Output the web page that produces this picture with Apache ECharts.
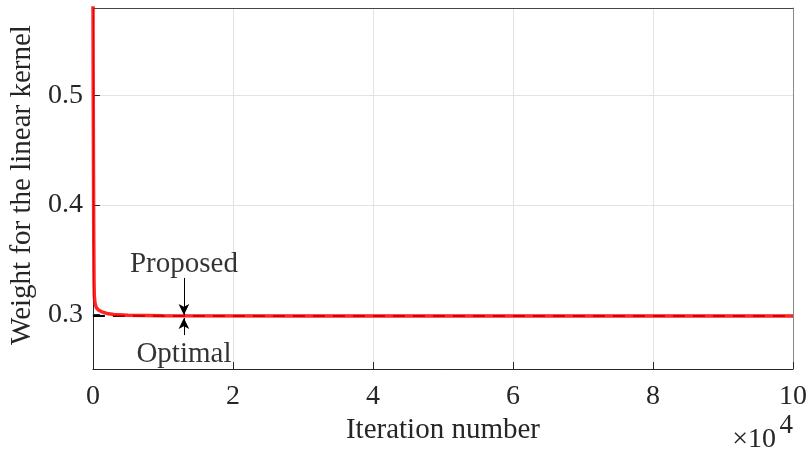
<!DOCTYPE html>
<html>
<head>
<meta charset="utf-8">
<script src="https://cdn.jsdelivr.net/npm/echarts@6/dist/echarts.min.js"></script>
<style>html,body{margin:0;padding:0;background:#fff}#c{width:811px;height:457px}</style>
</head>
<body>
<div id="c"></div>
<script>
// Data (x in units of 1e4 iterations)
var proposedX = [0, 0.004, 0.008, 0.012, 0.016, 0.02, 0.03, 0.05, 0.08, 0.12, 0.2, 0.3, 0.5, 1, 3, 10];
var proposedY = [0.62, 0.52, 0.44, 0.37, 0.33, 0.317, 0.31, 0.306, 0.304, 0.3025, 0.3008, 0.2998, 0.2991, 0.2987, 0.2985, 0.2985];
var optimalX = [0, 10];
var optimalY = [0.2985, 0.2985];
var xTicks = [0, 2, 4, 6, 8, 10];
var yTicks = [0.3, 0.4, 0.5];
var annotationNames = ['Proposed', 'Optimal'];
var annotationX = [1.3, 1.3];
var annotationTextY = [0.346, 0.2635];
var arrowFromY = [0.3332, 0.281];
var arrowToY = [0.2994, 0.2966];

function pairs(xs, ys) { return xs.map(function (x, i) { return [x, ys[i]]; }); }

var FONT = '"Liberation Serif", "Times New Roman", serif';
var AX = '#262626';

var chart = echarts.init(document.getElementById('c'), null, { renderer: 'canvas' });
chart.setOption({
  animation: false,
  backgroundColor: '#fff',
  grid: { left: 90, right: 18, top: 8, bottom: 88, containLabel: false },
  xAxis: [{
    type: 'value', min: 0, max: 10, interval: 2,
    axisLine: { show: true, onZero: false, lineStyle: { color: AX, width: 1 } },
    axisTick: { show: true, inside: true, length: 7, lineStyle: { color: AX } },
    axisLabel: { color: AX, fontFamily: FONT, fontSize: 28, margin: 14, customValues: xTicks },
    splitLine: { show: true, lineStyle: { color: '#e3e3e3', width: 1 } },
    name: 'Iteration number', nameLocation: 'middle', nameGap: 47,
    nameTextStyle: { color: AX, fontFamily: FONT, fontSize: 29 }
  }, {
    type: 'value', position: 'top', min: 0, max: 10, interval: 2,
    axisLine: { show: true, onZero: false, lineStyle: { color: '#444', width: 1 } },
    axisTick: { show: false }, axisLabel: { show: false }, splitLine: { show: false }
  }],
  yAxis: [{
    type: 'value', min: 0.25, max: 0.58,
    axisLine: { show: true, onZero: false, lineStyle: { color: AX, width: 1 } },
    axisTick: { show: true, inside: true, length: 7, lineStyle: { color: AX }, customValues: yTicks },
    axisLabel: { color: AX, fontFamily: FONT, fontSize: 28, margin: 10, customValues: yTicks,
      formatter: function (v) { return v.toFixed(1); } },
    splitLine: { show: true, lineStyle: { color: '#e3e3e3', width: 1 } },
    name: 'Weight for the linear kernel', nameLocation: 'middle', nameGap: 50,
    nameTextStyle: { color: AX, fontFamily: FONT, fontSize: 29, padding: [0, 0, 0, 7] }
  }, {
    type: 'value', position: 'right', min: 0.25, max: 0.58,
    axisLine: { show: true, onZero: false, lineStyle: { color: '#8a8a8a', width: 1 } },
    axisTick: { show: false }, axisLabel: { show: false }, splitLine: { show: false }
  }],
  graphic: [{
    type: 'text', right: 35, top: 426,
    style: { text: '×10', fill: AX, fontSize: 28, fontFamily: FONT }
  }, {
    type: 'text', right: 18, top: 412,
    style: { text: '4', fill: AX, fontSize: 27, fontFamily: FONT }
  }],
  series: [{
    name: 'Optimal', type: 'line', data: pairs(optimalX, optimalY), showSymbol: false,
    lineStyle: { color: '#000', width: 2, type: [12, 8] }, z: 2
  }, {
    name: 'Proposed', type: 'line', data: pairs(proposedX, proposedY), showSymbol: false,
    lineStyle: { color: '#ff0000', width: 3.5, opacity: 0.85 }, z: 3,
    markLine: {
      silent: true, symbol: ['none', 'arrow'], symbolSize: [8, 11], animation: false,
      label: { show: false },
      lineStyle: { color: '#000', width: 1, type: 'solid' },
      data: annotationNames.map(function (n, i) {
        return [{ coord: [annotationX[i], arrowFromY[i]] }, { coord: [annotationX[i], arrowToY[i]] }];
      })
    }
  }, {
    name: 'labels', type: 'scatter', symbolSize: 0, z: 4,
    data: annotationNames.map(function (n, i) { return { value: [annotationX[i], annotationTextY[i]], name: n }; }),
    label: { show: true, position: 'inside', formatter: '{b}', color: '#000', fontFamily: FONT, fontSize: 29 }
  }]
});
</script>
</body>
</html>
